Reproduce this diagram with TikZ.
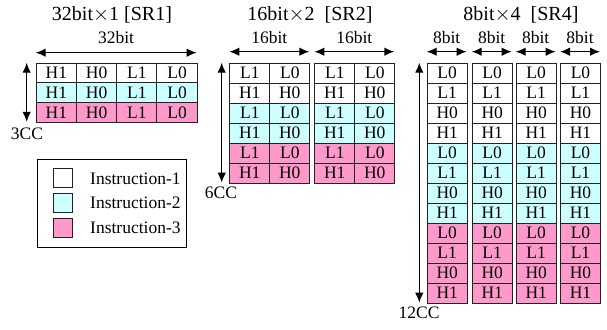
\documentclass[tikz,border=0pt]{standalone}
\usepackage{fontspec}
\setmainfont{Liberation Serif}
\usetikzlibrary{arrows.meta}
\definecolor{cyanI}{HTML}{CCFFFF}
\definecolor{pinkI}{HTML}{FF99CC}
\definecolor{lineC}{HTML}{222222}
\begin{document}
\begin{tikzpicture}[x=1pt,y=-1pt,
  cell/.style={draw=lineC,line width=1pt,inner sep=0pt,anchor=north west,
    minimum width=40pt,minimum height=20pt,font=\fontsize{17.5}{17.5}\selectfont},
  cellA/.style={cell,fill=white},
  cellB/.style={cell,fill=cyanI},
  cellC/.style={cell,fill=pinkI},
  dim/.style={{Latex[length=10pt,width=8.5pt]}-{Latex[length=10pt,width=8.5pt]},line width=1.4pt,draw=black},
  lbl/.style={font=\fontsize{17.5}{17.5}\selectfont,inner sep=0pt},
  ttl/.style={font=\fontsize{20}{20}\selectfont,inner sep=0pt},
  swatch/.style={draw=lineC,line width=1pt,minimum width=19pt,minimum height=19pt,inner sep=0pt,anchor=north west}
]
\useasboundingbox (0,0) rectangle (607,329);

% Titles
\node[ttl] (t1) at (112,15) {32bit$\times$1 [SR1]};
\node[ttl] (t2) at (310,15) {16bit$\times$2\ \ [SR2]};
\node[ttl] (t4) at (521,15) {8bit$\times$4\ \ [SR4]};

% ---------- SR1 ----------
\foreach \r/\sty in {0/cellA,1/cellB,2/cellC}{
  \foreach \c/\txt in {0/H1,1/H0,2/L1,3/L0}{
    \node[\sty,minimum width=40.25pt,minimum height=19.7pt] (a-\r-\c) at ({35.7+40.25*\c},{62.7+19.7*\r}) {\txt};
  }
}
\coordinate (a-l) at (35.7,52.7);
\coordinate (a-r) at (196.7,52.7);
\draw[dim] (a-l) -- (a-r);
\node[lbl] (a-bit) at (116,38) {32bit};
\coordinate (a-vt) at (26.7,62.7);
\coordinate (a-vb) at (26.7,121.8);
\draw[dim] (a-vt) -- (a-vb);
\node[lbl] (a-cc) at (27,134) {3CC};

% ---------- SR2 ----------
\foreach \t/\x in {0/229.3,1/314.3}{
  \foreach \r/\sty/\p in {0/cellA/L,1/cellA/H,2/cellB/L,3/cellB/H,4/cellC/L,5/cellC/H}{
    \node[\sty] (b-\t-\r-0) at (\x,{62.7+20*\r}) {\p1};
    \node[\sty] (b-\t-\r-1) at ({\x+40},{62.7+20*\r}) {\p0};
  }
  \coordinate (b-\t-l) at (\x,51.7);
  \coordinate (b-\t-r) at ({\x+80},51.7);
  \draw[dim] (b-\t-l) -- (b-\t-r);
  \node[lbl] (b-\t-bit) at ({\x+40},38) {16bit};
}
\coordinate (b-vt) at (221.7,62.7);
\coordinate (b-vb) at (221.7,182.7);
\draw[dim] (b-vt) -- (b-vb);
\node[lbl] (b-cc) at (221,193) {6CC};

% ---------- SR4 ----------
\foreach \t/\x in {0/426.7,1/471.7,2/515.7,3/560}{
  \foreach \r/\sty/\txt in {0/cellA/L0,1/cellA/L1,2/cellA/H0,3/cellA/H1,
                            4/cellB/L0,5/cellB/L1,6/cellB/H0,7/cellB/H1,
                            8/cellC/L0,9/cellC/L1,10/cellC/H0,11/cellC/H1}{
    \node[\sty] (c-\t-\r) at (\x,{62.7+20*\r}) {\txt};
  }
  \coordinate (c-\t-l) at (\x,51.7);
  \coordinate (c-\t-r) at ({\x+40},51.7);
  \draw[dim] (c-\t-l) -- (c-\t-r);
  \node[lbl] (c-\t-bit) at ({\x+20},38) {8bit};
}
\coordinate (c-vt) at (419.3,62.7);
\coordinate (c-vb) at (419.3,302.7);
\draw[dim] (c-vt) -- (c-vb);
\node[lbl] (c-cc) at (419,313) {12CC};

% ---------- Legend ----------
\node[draw=black,line width=1pt,minimum width=148.4pt,minimum height=88pt,anchor=north west,inner sep=0pt] (leg) at (37.3,159.3) {};
\node[swatch,fill=white] (s1) at (53.3,168.3) {};
\node[swatch,fill=cyanI] (s2) at (53.3,193.3) {};
\node[swatch,fill=pinkI] (s3) at (53.3,217.7) {};
\node[lbl,anchor=west] (l1) at (90,178.3) {Instruction-1};
\node[lbl,anchor=west] (l2) at (90,203) {Instruction-2};
\node[lbl,anchor=west] (l3) at (90,227.3) {Instruction-3};
\end{tikzpicture}
\end{document}
